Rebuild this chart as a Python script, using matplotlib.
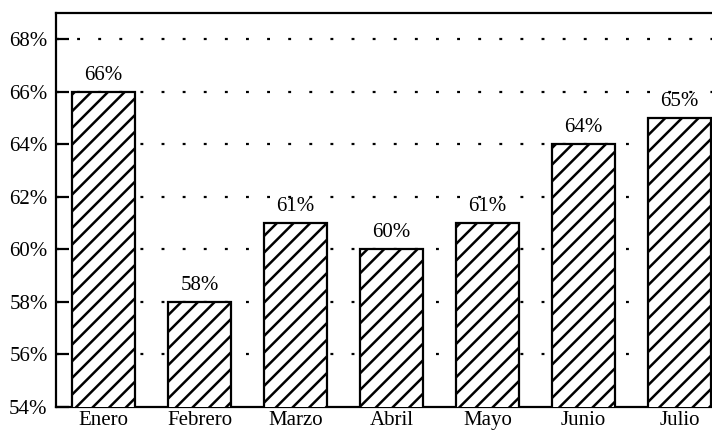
import matplotlib
matplotlib.use("Agg")
import matplotlib.pyplot as plt
from matplotlib.ticker import FuncFormatter

months = ["Enero", "Febrero", "Marzo", "Abril", "Mayo", "Junio", "Julio"]
values = [66, 58, 61, 60, 61, 64, 65]
y_ticks = [54, 56, 58, 60, 62, 64, 66, 68]

plt.rcParams["font.family"] = ["Liberation Serif", "DejaVu Serif"]
plt.rcParams["hatch.linewidth"] = 1.8
plt.rcParams["hatch.color"] = "black"

W, H = 712, 432
fig = plt.figure(figsize=(W / 100, H / 100), dpi=100)
# axes run slightly past the right edge of the canvas
left, right, top, bottom = 56, 727, 13, 407
ax = fig.add_axes([left / W, 1 - bottom / H, (right - left) / W, (bottom - top) / H])

x = list(range(len(months)))
bars = ax.bar(x, values, width=0.656, bottom=0, color="white",
              edgecolor="black", linewidth=1.6, hatch="//", zorder=3)

for xi, v in zip(x, values):
    ax.annotate(f"{v}%", (xi, v), xytext=(0, 5), textcoords="offset points",
                ha="center", va="bottom", fontsize=15, zorder=4)

ax.set_xlim(-0.495, 6.495)
ax.set_ylim(54, 69)
ax.set_yticks(y_ticks)
ax.yaxis.set_major_formatter(FuncFormatter(lambda v, p: f"{v:.0f}%"))
ax.set_xticks(x)
ax.set_xticklabels(months)

ax.tick_params(axis="y", direction="in", length=9, width=1.6, labelsize=15, pad=6)
ax.tick_params(axis="x", length=0, labelsize=15, pad=3)

for yt in y_ticks[1:]:
    ax.axhline(yt, color="black", linewidth=1.6, linestyle=(0, (1.3, 8.2)), zorder=1)

for s in ax.spines.values():
    s.set_linewidth(1.6)

fig.savefig("out.png", dpi=100)
